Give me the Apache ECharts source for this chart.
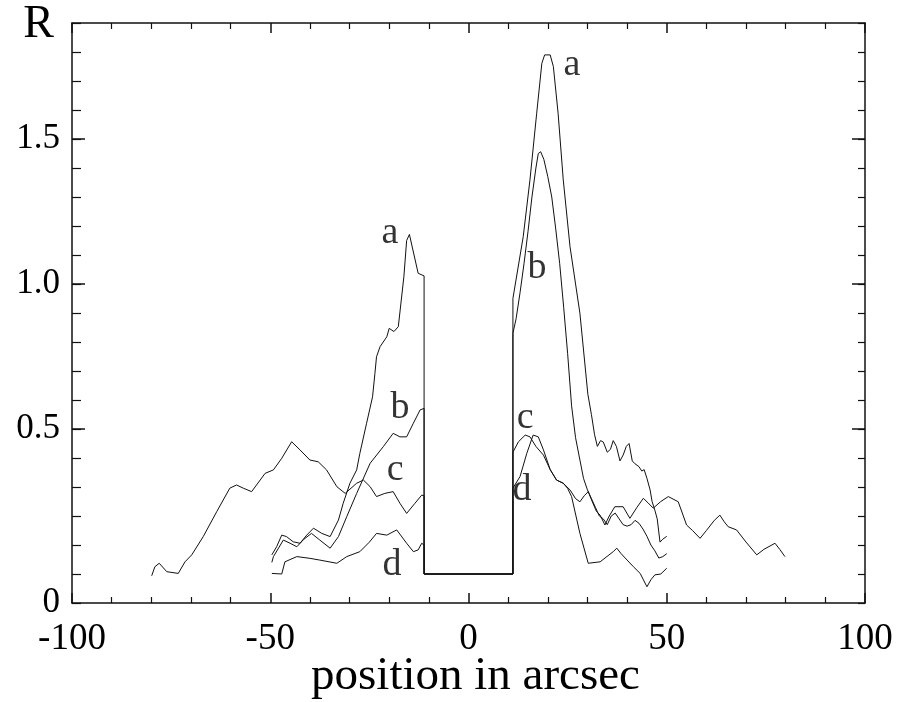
<!DOCTYPE html>
<html>
<head>
<meta charset="utf-8">
<script src="https://cdn.jsdelivr.net/npm/echarts@6.0.0/dist/echarts.min.js"></script>
<style>html,body{margin:0;padding:0;background:#fff;}#chart{width:898px;height:702px;}</style>
</head>
<body>
<div id="chart"></div>
<script>
// ---- data (position in arcsec, R) ----
var aPos = [-49.6,-48.4,-47.1,-45.9,-44.2,-42.5,-40.8,-39.1,-37.0,-34.9,-32.8,-31.6,-29.9,-28.2,-27.4,-25.7,-24.2,-23.6,-23.2,-22.3,-20.6,-20.0,-18.8,-17.7,-16.3,-15.6,-14.9,-12.7,-11.2,-11.2,11.2,11.2,11.7,13.8,15.5,17.2,18.5,19.2,19.7,20.6,21.4,22.6,23.9,25.6,28.1,30.1,31.0,31.8,32.5,33.3,34.0,35.0,35.8,36.5,37.3,38.2,39.0,39.8,40.5,41.3,42.0,43.0,43.7,44.3,45.0,45.8,46.3,47.0,47.6,48.3,49.0,50.0];
var aVal = [0.066,0.094,0.134,0.129,0.111,0.106,0.134,0.158,0.140,0.129,0.186,0.244,0.313,0.359,0.416,0.520,0.611,0.692,0.749,0.784,0.818,0.847,0.836,0.853,1.025,1.150,1.171,1.037,1.028,0,0,0.950,0.956,1.163,1.359,1.589,1.761,1.790,1.796,1.790,1.750,1.589,1.359,1.129,0.899,0.620,0.550,0.480,0.440,0.460,0.455,0.420,0.430,0.460,0.440,0.390,0.410,0.440,0.450,0.390,0.380,0.370,0.355,0.360,0.330,0.290,0.250,0.220,0.190,0.110,0.120,0.130];

var bPos = [-49.6,-49.2,-46.7,-45.0,-43.3,-41.5,-39.6,-37.5,-34.9,-32.8,-30.7,-28.2,-24.8,-21.5,-19.0,-17.3,-15.6,-13.9,-12.2,-11.2,-11.2,11.2,11.2,12,13,14,15,16,17,17.6,18.2,19,20,21,22,23,24,25,26,27,28,29,30,31,32,33,34,35,36,37,38,39,40,41,42,43,44,45,46,47,48,49,50];
var bVal = [0.040,0.060,0.117,0.106,0.094,0.120,0.140,0.117,0.089,0.129,0.198,0.278,0.382,0.439,0.485,0.473,0.473,0.520,0.566,0.571,0,0,0.830,0.880,0.970,1.070,1.180,1.300,1.400,1.450,1.456,1.430,1.370,1.300,1.190,1.070,0.920,0.760,0.580,0.470,0.400,0.330,0.290,0.260,0.230,0.200,0.190,0.170,0.200,0.210,0.190,0.170,0.165,0.170,0.185,0.175,0.155,0.130,0.100,0.080,0.055,0.060,0.070];

var cPos = [-79.9,-79.1,-78.0,-76.1,-73.2,-71.5,-69.8,-66.9,-63.5,-60.2,-58.5,-56.8,-54.7,-51.3,-49.2,-47.1,-44.6,-42.5,-40.0,-37.9,-35.8,-33.2,-31.1,-28.2,-26.5,-24.8,-23.2,-21.1,-19.0,-17.3,-15.6,-13.5,-11.8,-11.2,-11.2,11.2,11.2,12.6,14.3,15.5,17.0,18.9,20.6,22.2,23.9,25.6,27.0,28.1,29.2,30.2,31.2,32.3,33.2,34.4,35.5,36.9,39.0,40.7,42.5,44.1,45.3,46.6,48.5,50.4,52.9,55.0,56.5,58.4,60.0,62.0,63.4,64.5,65.5,67.6,70.0,72.7,74.5,77.3,78.5,79.8];
var cVal = [-0.006,0.025,0.037,0.008,0.002,0.042,0.066,0.129,0.215,0.296,0.307,0.296,0.284,0.347,0.359,0.399,0.456,0.428,0.393,0.387,0.359,0.301,0.278,0.313,0.324,0.301,0.267,0.278,0.284,0.244,0.209,0.244,0.272,0.270,0,0,0.420,0.456,0.479,0.473,0.440,0.410,0.360,0.324,0.313,0.290,0.260,0.249,0.270,0.284,0.250,0.215,0.203,0.169,0.200,0.232,0.232,0.192,0.230,0.261,0.245,0.227,0.250,0.267,0.249,0.169,0.150,0.123,0.150,0.185,0.203,0.180,0.163,0.152,0.110,0.066,0.085,0.106,0.085,0.060];

var dPos = [-49.6,-47.1,-46.3,-43.3,-40.0,-37.5,-33.2,-30.7,-27.4,-25.0,-23.2,-20.6,-18.1,-15.6,-13.9,-12.7,-11.8,-11.2,-11.2,11.2,11.2,13.0,14.7,16.3,17.6,18.9,20.6,22.2,23.9,25.0,26.0,28.1,30.2,33.2,36.5,37.4,38.5,40.0,41.6,43.3,45.0,46.0,47.0,48.5,50.0];
var dVal = [0.002,0.000,0.042,0.060,0.054,0.048,0.037,0.060,0.077,0.110,0.140,0.134,0.152,0.106,0.077,0.083,0.106,0.100,0,0,0.296,0.336,0.416,0.479,0.473,0.428,0.360,0.324,0.313,0.295,0.267,0.140,0.037,0.042,0.077,0.089,0.070,0.048,0.025,0.002,-0.044,-0.020,-0.003,0.000,0.020];

// curve labels
var labelText = ['a','a','b','b','c','c','d','d'];
var labelPos = [-19.8,26.1,-17.3,17.3,-18.5,14.3,-19.3,13.5];
var labelVal = [1.176,1.755,0.572,1.055,0.359,0.538,0.030,0.290];

// tick labels
var xTickLabels = {'-100':'-100','-50':'-50','0':'0','50':'50','100':'100'};
var yTickLabels = {'-1':'0','5':'0.5','10':'1.0','15':'1.5'};

function zip(p, v) { return p.map(function (x, i) { return [x, v[i]]; }); }

var FONT = 'Liberation Serif';
var INK = '#111';
var chart = echarts.init(document.getElementById('chart'), null, {renderer: 'canvas'});

function lineSeries(name, p, v) {
  return {
    name: name, type: 'line', data: zip(p, v), showSymbol: false, symbol: 'none',
    lineStyle: {color: INK, width: 1}, itemStyle: {color: INK}, animation: false, z: 3
  };
}

var xBase = {
  type: 'value', min: -100, max: 100, interval: 50,
  axisLine: {show: true, onZero: false, lineStyle: {color: INK, width: 1.5}},
  axisTick: {show: true, inside: true, length: 10, lineStyle: {color: INK, width: 1.5}},
  minorTick: {show: true, splitNumber: 5, length: 6, lineStyle: {color: INK, width: 1.2}},
  splitLine: {show: false}
};
var yBase = {
  type: 'value', min: -0.1, max: 1.9, interval: 0.1,
  axisLine: {show: true, onZero: false, lineStyle: {color: INK, width: 1.5}},
  axisTick: {show: true, inside: true, length: 9, lineStyle: {color: INK, width: 1.2}},
  splitLine: {show: false}
};

var option = {
  backgroundColor: '#fff',
  animation: false,
  grid: {left: 72, right: 33, top: 23, bottom: 99, containLabel: false, outerBoundsMode: 'none'},
  xAxis: [
    Object.assign({}, xBase, {
      position: 'bottom',
      name: 'position in arcsec', nameLocation: 'middle', nameGap: 50, nameMoveOverlap: false,
      nameTextStyle: {fontFamily: FONT, fontSize: 47, color: '#000', padding: [0, 0, 0, 14]},
      axisLabel: {show: true, margin: 18, fontFamily: FONT, fontSize: 37, color: '#000',
        formatter: function (v) { return xTickLabels[String(Math.round(v))] || ''; }}
    }),
    Object.assign({}, xBase, {position: 'top', axisLabel: {show: false}})
  ],
  yAxis: [
    Object.assign({}, yBase, {
      position: 'left',
      name: 'R', nameLocation: 'end', nameGap: -2, nameMoveOverlap: false,
      nameTextStyle: {fontFamily: FONT, fontSize: 46, color: '#000', align: 'right', verticalAlign: 'middle', padding: [0, 18, 0, 0]},
      axisLabel: {show: true, margin: 12, fontFamily: FONT, fontSize: 35, color: '#000',
        formatter: function (v) { return yTickLabels[String(Math.round(v * 10))] || ''; }}
    }),
    {type: 'value', min: -0.1, max: 1.9, position: 'left', axisLine: {show: false, onZero: false}, splitLine: {show: false}, axisLabel: {show: false},
      axisTick: {show: true, inside: true, length: 13, customValues: [0.5, 1.0, 1.5], lineStyle: {color: INK, width: 1.5}}},
    Object.assign({}, yBase, {position: 'right', axisLabel: {show: false},
      axisTick: {show: true, inside: true, length: 7, lineStyle: {color: INK, width: 1.2}}}),
    {type: 'value', min: -0.1, max: 1.9, position: 'right', axisLine: {show: false, onZero: false}, splitLine: {show: false}, axisLabel: {show: false},
      axisTick: {show: true, inside: true, length: 13, customValues: [0.5, 1.0, 1.5], lineStyle: {color: INK, width: 1.5}}}
  ],
  series: [
    lineSeries('a', aPos, aVal),
    lineSeries('b', bPos, bVal),
    lineSeries('c', cPos, cVal),
    lineSeries('d', dPos, dVal),
    {
      name: 'labels', type: 'scatter', symbolSize: 0, silent: true, z: 5,
      data: labelPos.map(function (x, i) { return {value: [x, labelVal[i]], name: labelText[i]}; }),
      label: {show: true, position: 'inside', formatter: function (p) { return p.name; },
        fontFamily: FONT, fontSize: 38, color: '#000'}
    }
  ]
};
chart.setOption(option);
</script>
</body>
</html>
